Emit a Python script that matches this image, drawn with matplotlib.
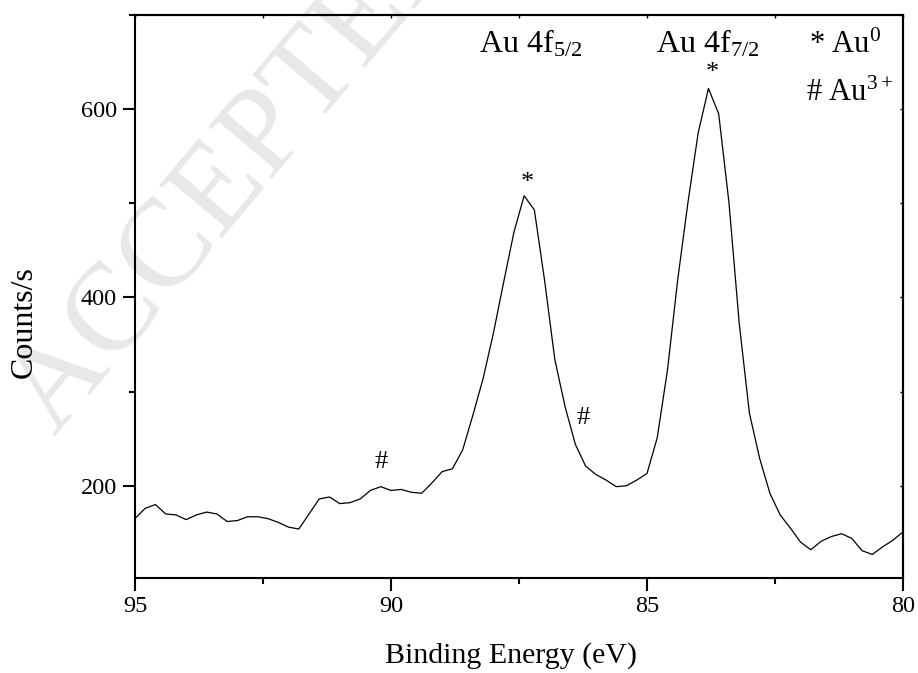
import numpy as np
import matplotlib
matplotlib.use("Agg")
import matplotlib.pyplot as plt
from matplotlib.ticker import MultipleLocator

plt.rcParams['font.family'] = ['Liberation Serif', 'DejaVu Serif']
plt.rcParams['mathtext.fontset'] = 'custom'
plt.rcParams['mathtext.rm'] = 'Liberation Serif'
plt.rcParams['mathtext.it'] = 'Liberation Serif:italic'

# XPS Au 4f spectrum, binding energy (eV) and counts/s
energy = [95.0, 94.8, 94.6, 94.4, 94.2, 94.0, 93.8, 93.6, 93.4, 93.2,
          93.0, 92.8, 92.6, 92.4, 92.2, 92.0, 91.8, 91.6, 91.4, 91.2,
          91.0, 90.8, 90.6, 90.4, 90.2, 90.0, 89.8, 89.6, 89.4, 89.2,
          89.0, 88.8, 88.6, 88.4, 88.2, 88.0, 87.8, 87.6, 87.4, 87.2,
          87.0, 86.8, 86.6, 86.4, 86.2, 86.0, 85.8, 85.6, 85.4, 85.2,
          85.0, 84.8, 84.6, 84.4, 84.2, 84.0, 83.8, 83.6, 83.4, 83.2,
          83.0, 82.8, 82.6, 82.4, 82.2, 82.0, 81.8, 81.6, 81.4, 81.2,
          81.0, 80.8, 80.6, 80.4, 80.2, 80.0]
counts = [165, 176, 180, 170, 169, 164, 169, 172, 170, 162,
          163, 167, 167, 165, 161, 156, 154, 170, 186, 188,
          181, 182, 186, 195, 199, 195, 196, 193, 192, 203,
          215, 218, 238, 275, 314, 362, 416, 469, 508, 493,
          418, 334, 284, 244, 221, 212, 206, 199, 200, 206,
          213, 251, 323, 419, 501, 575, 622, 595, 501, 373,
          277, 229, 192, 169, 155, 140, 132, 141, 146, 149,
          144, 131, 127, 135, 142, 151]

# labels on the plot: (text, x, y)
peak_labels = [(r"Au 4f$_{5/2}$", 87.27, 669), (r"Au 4f$_{7/2}$", 83.81, 669)]
legend_labels = [(r"* Au$^{0}$", 81.13, 668), (r"# Au$^{3+}$", 81.05, 617)]
marks = [("*", 87.34, 522), ("*", 83.73, 638), ("#", 90.2, 225), ("#", 86.25, 272)]

fig = plt.figure(figsize=(9.18, 6.73), dpi=100)
ax = fig.add_axes([0.147, 0.1412, 0.8367, 0.8365])
ax.patch.set_alpha(0)

# faint watermark behind the chart
fig.text(0.06, 0.35, "ACCEPTED MANUSCRIPT", fontsize=90, color='#e8e8e8',
         rotation=50, rotation_mode='anchor', ha='left', va='baseline', zorder=-1)

ax.plot(energy, counts, color='black', lw=0.9)

ax.set_xlim(95, 80)
ax.set_ylim(102, 700)
ax.xaxis.set_major_locator(MultipleLocator(5))
ax.xaxis.set_minor_locator(MultipleLocator(2.5))
ax.yaxis.set_major_locator(MultipleLocator(200))
ax.yaxis.set_minor_locator(MultipleLocator(100))

for s in ax.spines.values():
    s.set_linewidth(1.5)

ax.tick_params(which='both', direction='out', width=1.5, labelsize=17.5,
               top=False, right=False)
ax.tick_params(which='major', length=9, pad=4)
ax.tick_params(which='minor', length=4.5)

# tiny inward ticks on the top and right frame
sec = ax.secondary_xaxis('top')
sec.xaxis.set_major_locator(MultipleLocator(2.5))
sec.tick_params(direction='in', length=2.5, width=1, labeltop=False)
sec.spines['top'].set_linewidth(1.5)
secy = ax.secondary_yaxis('right')
secy.yaxis.set_major_locator(MultipleLocator(100))
secy.tick_params(direction='in', length=2.5, width=1, labelright=False)
secy.spines['right'].set_linewidth(1.5)

ax.set_xlabel("Binding Energy (eV)", fontsize=21.5, labelpad=18)
ax.set_ylabel("Counts/s", fontsize=23, labelpad=30)
ax.xaxis.label.set_x(0.49)
ax.yaxis.label.set_y(0.455)

for txt, x, y in peak_labels:
    ax.text(x, y, txt, fontsize=23, ha='center', va='center')
for txt, x, y in legend_labels:
    ax.text(x, y, txt, fontsize=22, ha='center', va='center')
for txt, x, y in marks:
    ax.text(x, y, txt, fontsize=19, ha='center', va='center')

fig.savefig("out.png", dpi=100)
